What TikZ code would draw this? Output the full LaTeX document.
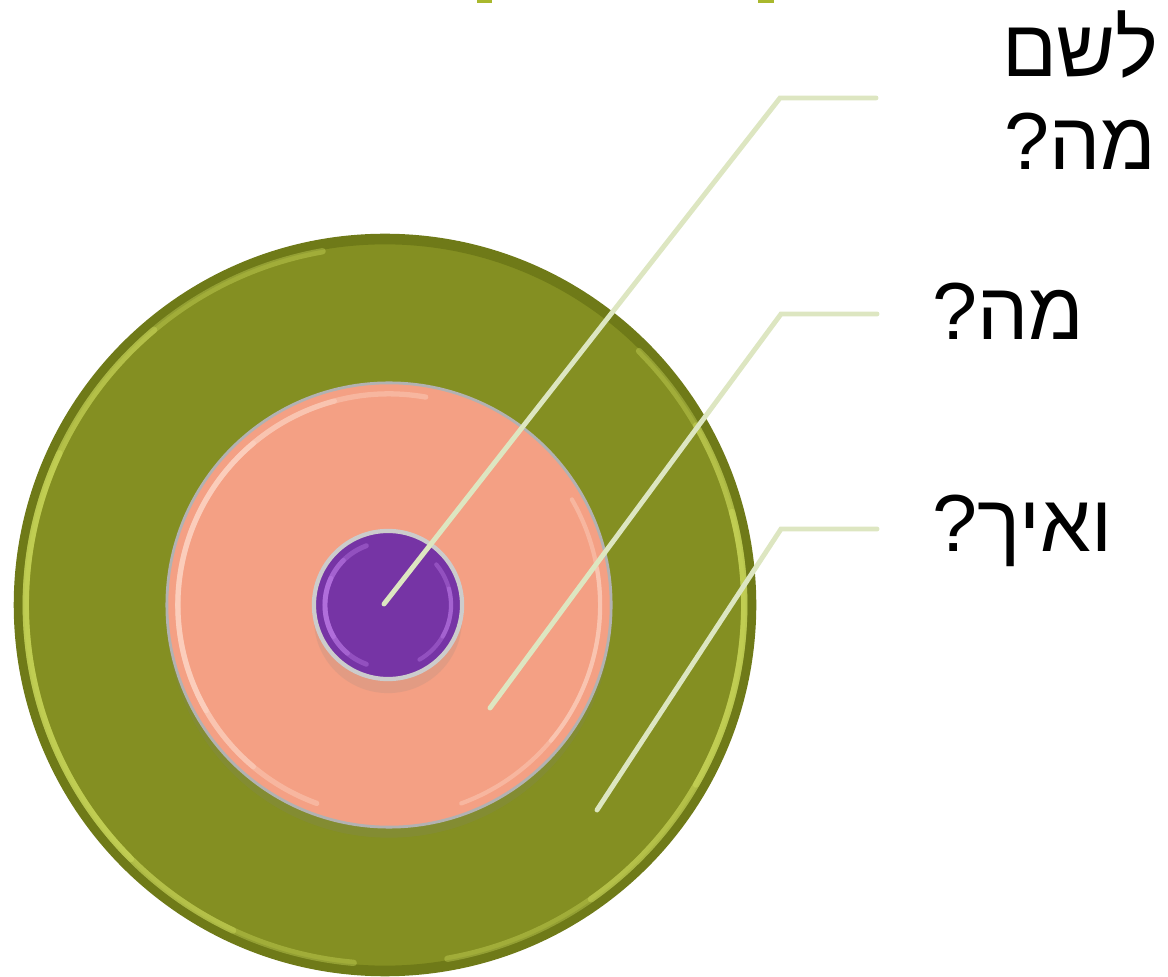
\documentclass[tikz,border=0pt]{standalone}
\usepackage{fontspec}
\newfontfamily\hebfont[Script=Hebrew]{Liberation Sans}
\TeXXeTstate=1
\usepackage{xcolor}
\usetikzlibrary{shadows}
\definecolor{OuterRingFill}{HTML}{848F22}
\definecolor{OuterRingRim}{HTML}{6F7A18}
\definecolor{OuterRingLight}{HTML}{D8E666}
\definecolor{MiddleRingFill}{HTML}{F4A084}
\definecolor{MiddleRingLight}{HTML}{FFE0D2}
\definecolor{InnerRingFill}{HTML}{7634A5}
\definecolor{InnerRingLight}{HTML}{C885F2}
\definecolor{LeaderLine}{HTML}{DDE6C1}
\definecolor{TitleTab}{HTML}{A9B82D}
\tikzstyle{Ring} =[circle,inner sep=0pt,draw]
\tikzstyle{Leader} =[draw=LeaderLine,line width=1.4pt,line cap=round]
\tikzstyle{Question} =[inner sep=0pt,font=\hebfont\fontsize{23pt}{27pt}\selectfont]
\tikzstyle{Glint} =[line cap=round,opacity=0.35]
\begin{document}
\begin{tikzpicture}[x=0.01cm,y=-0.01cm]
\useasboundingbox (0,0) rectangle (1168,977);
\fill[TitleTab] (477,0) rectangle (492,3);
\fill[TitleTab] (758,0) rectangle (774,3);
\node[Ring,draw=OuterRingRim,line width=0.6pt,fill=OuterRingFill,minimum size=7.4cm](OuterRing) at (385,605){};
\draw[OuterRingRim,line width=2.6pt] (OuterRing.center) circle[radius=3.65cm];
\foreach \a/\b in {100/265,130/245,155/225}
  \draw[Glint,OuterRingLight,line width=1.8pt] ([shift={(\a:3.59cm)}]OuterRing.center) arc[start angle=\a,end angle=\b,radius=3.59cm];
\foreach \a/\b in {-80/45,-55/30,-30/15}
  \draw[Glint,OuterRingLight,line width=1.8pt] ([shift={(\a:3.59cm)}]OuterRing.center) arc[start angle=\a,end angle=\b,radius=3.59cm];
\node[Ring,draw=gray!60,line width=0.8pt,fill=MiddleRingFill,minimum size=4.44cm,drop shadow={opacity=0.18,shadow xshift=0pt,shadow yshift=-3pt}](MiddleRing) at (389,605){};
\foreach \a/\b in {80/250,105/230,130/210}
  \draw[Glint,MiddleRingLight,line width=1.5pt] ([shift={(\a:2.11cm)}]MiddleRing.center) arc[start angle=\a,end angle=\b,radius=2.11cm];
\foreach \a/\b in {-70/30,-40/10}
  \draw[Glint,MiddleRingLight,line width=1.2pt] ([shift={(\a:2.11cm)}]MiddleRing.center) arc[start angle=\a,end angle=\b,radius=2.11cm];
\node[Ring,draw=gray!40,line width=1.2pt,fill=InnerRingFill,minimum size=1.48cm,drop shadow={opacity=0.15,shadow xshift=0pt,shadow yshift=-4pt}](InnerRing) at (388,605){};
\foreach \a/\b in {110/250,135/230,155/210}
  \draw[Glint,InnerRingLight,line width=1.4pt] ([shift={(\a:0.63cm)}]InnerRing.center) arc[start angle=\a,end angle=\b,radius=0.63cm];
\foreach \a/\b in {-60/40,-30/15}
  \draw[Glint,InnerRingLight,line width=1.2pt] ([shift={(\a:0.63cm)}]InnerRing.center) arc[start angle=\a,end angle=\b,radius=0.63cm];
\coordinate (WhyEnd) at (384,604);
\coordinate (WhyBend) at (780,98);
\coordinate (WhyTip) at (876,98);
\coordinate (WhatEnd) at (490,708);
\coordinate (WhatBend) at (781,314);
\coordinate (WhatTip) at (877,314);
\coordinate (HowEnd) at (597,810);
\coordinate (HowBend) at (781,529);
\coordinate (HowTip) at (877,529);
\draw[Leader] (WhyEnd) -- (WhyBend) -- (WhyTip);
\draw[Leader] (WhatEnd) -- (WhatBend) -- (WhatTip);
\draw[Leader] (HowEnd) -- (HowBend) -- (HowTip);
\node[Question,anchor=base](WhyLabelTop) at (1080,77){\beginR לשם\endR};
\node[Question,anchor=base](WhyLabelBottom) at (1080,170){\beginR מה?\endR};
\node[Question,anchor=base west](WhatLabel) at (932,340){\beginR מה?\endR};
\node[Question,anchor=base west](HowLabel) at (932,552){\beginR ואיך?\endR};
\end{tikzpicture}
\end{document}
